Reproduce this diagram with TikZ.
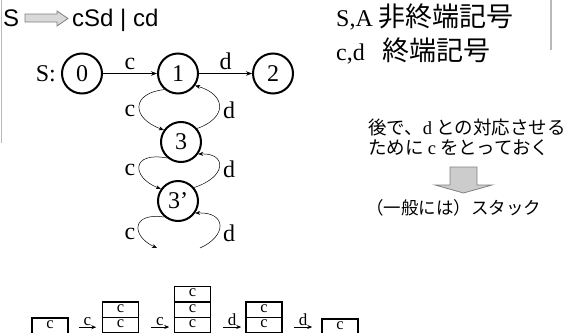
\documentclass[tikz,border=0pt]{standalone}
\usepackage{fontspec}
\setmainfont{Liberation Serif}
\setsansfont{Liberation Sans}
\newfontfamily\cjk{Noto Sans CJK JP}
\usetikzlibrary{arrows.meta}
\begin{document}
\begin{tikzpicture}[x=1pt,y=-1pt,
  st/.style={circle,draw,line width=2pt,minimum size=40pt,inner sep=0pt,font=\fontsize{24}{24}\selectfont},
  e/.style={line width=0.7pt,-{Stealth[length=6pt,width=4.5pt]}},
  lp/.style={line width=0.5pt,-{Stealth[length=5pt,width=4pt]}},
  lab/.style={inner sep=0pt,font=\fontsize{24}{24}\selectfont},
  box/.style={draw,line width=1.5pt,minimum width=36pt,minimum height=15.5pt,inner sep=0pt,
    font=\fontsize{16.5}{16.5}\selectfont,text height=8pt,text depth=3pt},
  sa/.style={line width=0.8pt,-{Stealth[length=5pt,width=4pt]}},
  slab/.style={midway,above,inner sep=1pt,font=\fontsize{17}{17}\selectfont},
  blockarrow/.style={fill=gray!30,draw=gray,line width=0.8pt},
  frame/.style={draw=gray!55,line width=1.2pt}]
\useasboundingbox (0,0) rectangle (567,332);
\clip (0,0) rectangle (567,332);
% frame lines
\draw[frame] (1.5,0) -- (1.5,143);
\draw[frame] (551,0) -- (551,50);
% grammar
\node[anchor=base west,inner sep=0pt,font=\sffamily\fontsize{24}{24}\selectfont] (S) at (3,27) {S};
\draw[blockarrow] (25,14) -- (57,14) -- (57,11) -- (68,18.5) -- (57,26) -- (57,22) -- (25,22) -- cycle;
\node[anchor=base west,inner sep=0pt,font=\sffamily\fontsize{24}{24}\selectfont] (rule) at (72,27) {cSd | cd};
% legend
\node[anchor=base west,inner sep=0pt,font=\fontsize{24}{24}\selectfont] (leg1) at (336,27) {S,A {\cjk\fontsize{27}{27}\selectfont 非終端記号}};
\node[anchor=base west,inner sep=0pt,font=\fontsize{24}{24}\selectfont] (leg2) at (336,60) {c,d\hspace{18pt}{\cjk\fontsize{27}{27}\selectfont 終端記号}};
% automaton
\node[lab,anchor=east] (Slab) at (56,74) {S:};
\node[st] (n0) at (82,73.5) {0};
\node[st] (n1) at (178,73.5) {1};
\node[st] (n2) at (273,73.5) {2};
\node[st] (n3) at (181,142) {3};
\node[st] (n3p) at (178,201) {3’};
\coordinate (endL) at (157,248);
\coordinate (startR) at (200,248);
\draw[e] (n0) -- (n1) node[midway,above=3pt,lab] {c};
\draw[e] (n1) -- (n2) node[midway,above=3pt,lab] {d};
\draw[lp] (n1.230) .. controls (131,93) and (131,118) .. (n3.145);
\draw[lp] (n3.40) .. controls (227,118) and (227,95) .. (n1.-35);
\node[lab] at (130,111) {c};
\node[lab] at (229,110) {d};
\draw[lp] (n3.230) .. controls (131,151) and (131,177) .. (n3p.145);
\draw[lp] (n3p.40) .. controls (227,177) and (227,153) .. (n3.-35);
\node[lab] at (130,170) {c};
\node[lab] at (229,169) {d};
\draw[lp] (n3p.230) .. controls (131,212) and (131,236) .. (endL);
\draw[lp] (startR) .. controls (227,236) and (227,212) .. (n3p.-35);
\node[lab] at (130,234) {c};
\node[lab] at (229,233) {d};
% explanation
\node[anchor=base west,inner sep=0pt,font=\cjk\fontsize{18.5}{18.5}\selectfont] (ex1) at (368,134) {後で、{\rmfamily d} との対応させる};
\node[anchor=base west,inner sep=0pt,font=\cjk\fontsize{18.5}{18.5}\selectfont] (ex2) at (368,154) {ために {\rmfamily c} をとっておく};
\draw[blockarrow,fill=gray!40] (450,167) -- (477,167) -- (477,185) -- (492,185) -- (463.5,193) -- (435,185) -- (450,185) -- cycle;
\node[anchor=base west,inner sep=0pt,font=\cjk\fontsize{17.5}{17.5}\selectfont] (stack) at (366,214) {（一般には）スタック};
% stacks
\node[box] (a1) at (50,325.7) {c};
\node[box] (b2) at (120.5,309.5) {c};
\node[box] (b1) at (120.5,325) {c};
\node[box] (c3) at (192.5,294) {c};
\node[box] (c2) at (192.5,309.5) {c};
\node[box] (c1) at (192.5,325) {c};
\node[box] (d2) at (264,309.5) {c};
\node[box] (d1) at (264,325) {c};
\node[box] (e1) at (340,326.5) {c};
\draw[sa] ([xshift=10pt,yshift=-1.5pt]a1.east) -- ([xshift=-5.5pt,yshift=-1.5pt]a1.east -| b1.west) node[slab] {c};
\draw[sa] ([xshift=11.5pt,yshift=-2pt]b1.east) -- ([xshift=-4.5pt,yshift=-2pt]b1.east -| c1.west) node[slab] {c};
\draw[sa] ([xshift=11.5pt,yshift=-2pt]c1.east) -- ([xshift=-4pt,yshift=-2pt]c1.east -| d1.west) node[slab] {d};
\draw[sa] ([xshift=11pt,yshift=-2pt]d1.east) -- ([xshift=-9pt,yshift=-2pt]d1.east -| e1.west) node[slab] {d};
\end{tikzpicture}
\end{document}
